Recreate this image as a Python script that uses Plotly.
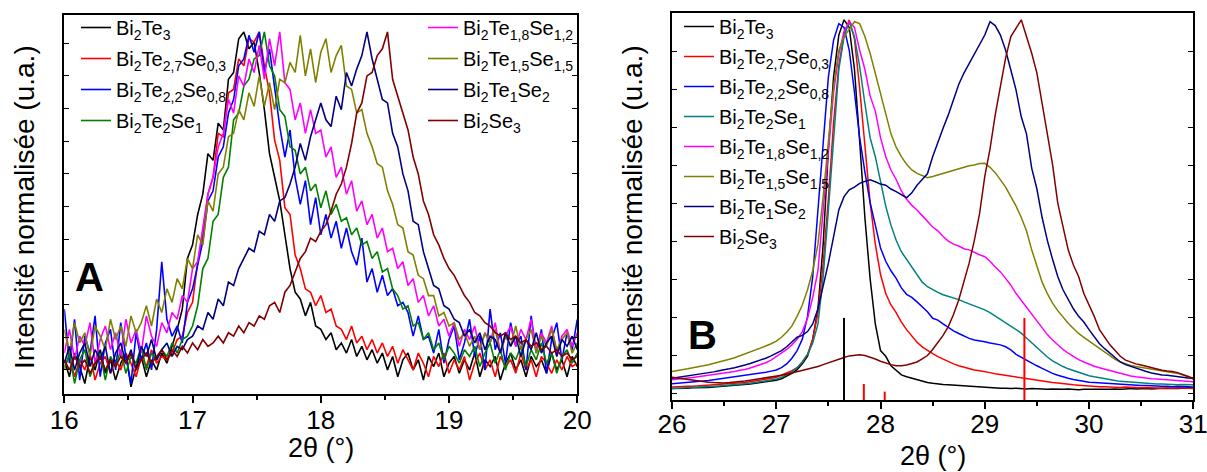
import plotly.graph_objects as go

W, H = 1207, 472

names = ["Bi<sub>2</sub>Te<sub>3</sub>", "Bi<sub>2</sub>Te<sub>2,7</sub>Se<sub>0,3</sub>",
         "Bi<sub>2</sub>Te<sub>2,2</sub>Se<sub>0,8</sub>", "Bi<sub>2</sub>Te<sub>2</sub>Se<sub>1</sub>",
         "Bi<sub>2</sub>Te<sub>1,8</sub>Se<sub>1,2</sub>", "Bi<sub>2</sub>Te<sub>1,5</sub>Se<sub>1,5</sub>",
         "Bi<sub>2</sub>Te<sub>1</sub>Se<sub>2</sub>", "Bi<sub>2</sub>Se<sub>3</sub>"]
colors_A = ["#000000", "#ff0000", "#0000ff", "#008000", "#ff00ff", "#808000", "#000080", "#800000"]
colors_B = ["#000000", "#ff0000", "#0000ff", "#008080", "#ff00ff", "#808000", "#000080", "#800000"]

# ---------------- Panel A : 2theta 16-20 (sampling grid) ----------------
A_theta = [round(16 + 0.04 * i, 2) for i in range(101)]

A_Bi2Te3 = [0.03, -0.02, 0.05, 0.01, -0.04, 0.04, 0.0, 0.06, -0.01, 0.03,
            -0.03, 0.02, 0.05, -0.05, 0.01, 0.04, -0.02, 0.03, 0.0, 0.05,
            0.02, 0.07, 0.12, 0.18, 0.33, 0.37, 0.46, 0.52, 0.64, 0.62,
            0.73, 0.71, 0.86, 0.88, 0.98, 1.0, 0.95, 0.97, 0.88, 0.77,
            0.64, 0.57, 0.5, 0.4, 0.3, 0.23, 0.21, 0.16, 0.2, 0.13,
            0.12, 0.09, 0.11, 0.06, 0.08, 0.05, 0.09, 0.04, 0.07, 0.03,
            0.06, 0.02, 0.05, 0.0, 0.04, -0.02, 0.03, 0.05, 0.0, 0.03,
            -0.03, 0.04, 0.01, 0.05, -0.02, 0.02, 0.04, -0.01, 0.03, 0.0,
            0.05, -0.02, 0.03, 0.01, 0.04, -0.03, 0.02, 0.05, 0.0, 0.03,
            -0.02, 0.04, 0.01, 0.03, -0.01, 0.05, 0.0, 0.03, -0.02, 0.04, 0.01]
A_Bi2Te27Se03 = [0.01, 0.04, -0.02, 0.03, 0.0, 0.05, -0.03, 0.02, 0.04, -0.01,
                 0.03, 0.0, 0.05, 0.02, -0.02, 0.04, 0.01, 0.06, 0.02, 0.04,
                 0.03, 0.05, 0.09, 0.1, 0.17, 0.2, 0.32, 0.4, 0.52, 0.57,
                 0.7, 0.69, 0.82, 0.83, 0.92, 0.9, 0.98, 0.97, 1.0, 0.9,
                 0.82, 0.68, 0.62, 0.48, 0.46, 0.34, 0.3, 0.24, 0.23, 0.19,
                 0.22, 0.17, 0.18, 0.13, 0.12, 0.09, 0.13, 0.08, 0.1, 0.06,
                 0.09, 0.05, 0.08, 0.04, 0.07, 0.02, 0.06, 0.03, 0.0, 0.05,
                 0.02, -0.02, 0.04, 0.01, 0.05, -0.01, 0.03, 0.0, 0.04, -0.03,
                 0.02, 0.05, 0.0, 0.03, -0.02, 0.04, 0.01, 0.03, -0.01, 0.05,
                 0.0, 0.03, -0.02, 0.04, 0.02, -0.01, 0.03, 0.0, 0.04, 0.01, 0.02]
A_Bi2Te22Se08 = [0.18, 0.02, 0.15, -0.03, 0.1, 0.05, 0.16, -0.02, 0.08, 0.12,
                 0.0, 0.14, 0.04, -0.04, 0.11, 0.03, 0.08, 0.0, 0.12, 0.32,
                 0.15, 0.1, 0.13, 0.08, 0.2, 0.24, 0.31, 0.38, 0.5, 0.53,
                 0.63, 0.66, 0.76, 0.8, 0.9, 0.92, 0.99, 0.94, 1.0, 0.88,
                 0.95, 0.83, 0.72, 0.63, 0.71, 0.57, 0.49, 0.56, 0.43, 0.51,
                 0.4, 0.46, 0.39, 0.44, 0.36, 0.42, 0.35, 0.31, 0.39, 0.26,
                 0.3, 0.23, 0.28, 0.22, 0.24, 0.19, 0.2, 0.17, 0.1, 0.16,
                 0.09, 0.1, 0.05, 0.12, 0.02, 0.09, 0.13, 0.03, 0.08, 0.15,
                 0.04, 0.1, 0.0, 0.18, 0.06, 0.11, 0.02, 0.14, 0.07, 0.1,
                 0.0, 0.16, 0.05, 0.12, -0.01, 0.09, 0.14, 0.03, 0.11, 0.06, 0.15]
A_Bi2Te2Se1 = [0.0, 0.05, -0.04, 0.03, 0.06, -0.02, 0.02, 0.05, -0.03, 0.04,
               0.01, 0.06, -0.01, 0.04, 0.02, 0.07, 0.0, 0.05, 0.03, 0.06,
               0.04, 0.08, 0.05, 0.09, 0.1, 0.13, 0.19, 0.3, 0.33, 0.44,
               0.46, 0.57, 0.6, 0.74, 0.76, 0.84, 0.86, 0.92, 0.93, 1.0,
               0.9, 0.87, 0.77, 0.75, 0.66, 0.65, 0.58, 0.6, 0.53, 0.55,
               0.48, 0.53, 0.46, 0.49, 0.44, 0.45, 0.4, 0.42, 0.37, 0.38,
               0.33, 0.35, 0.29, 0.3, 0.24, 0.22, 0.18, 0.19, 0.13, 0.14,
               0.09, 0.11, 0.06, 0.08, 0.03, 0.07, 0.05, 0.02, 0.06, 0.04,
               0.07, 0.01, 0.05, 0.08, 0.02, 0.06, 0.0, 0.05, 0.03, 0.07,
               0.01, 0.06, 0.03, 0.08, 0.02, 0.05, -0.01, 0.04, 0.06, 0.02, 0.05]
A_Bi2Te18Se12 = [0.05, 0.12, 0.03, 0.1, 0.07, 0.14, 0.02, 0.09, 0.13, 0.06,
                 0.11, 0.04, 0.15, 0.08, 0.12, 0.05, 0.16, 0.1, 0.07, 0.14,
                 0.11, 0.17, 0.15, 0.22, 0.2, 0.3, 0.32, 0.42, 0.52, 0.57,
                 0.66, 0.7, 0.8, 0.76, 0.87, 0.84, 0.92, 0.88, 0.96, 0.86,
                 0.98, 0.9, 1.0, 0.85, 0.83, 0.74, 0.79, 0.7, 0.77, 0.7,
                 0.71, 0.63, 0.66, 0.57, 0.6, 0.52, 0.56, 0.47, 0.5, 0.43,
                 0.46, 0.39, 0.42, 0.35, 0.36, 0.3, 0.32, 0.25, 0.27, 0.2,
                 0.22, 0.16, 0.19, 0.13, 0.15, 0.1, 0.14, 0.07, 0.12, 0.09,
                 0.13, 0.06, 0.11, 0.08, 0.14, 0.05, 0.1, 0.13, 0.07, 0.12,
                 0.09, 0.15, 0.06, 0.11, 0.08, 0.13, 0.05, 0.1, 0.12, 0.07, 0.11]
A_Bi2Te15Se15 = [0.12, 0.05, 0.14, 0.08, 0.11, 0.04, 0.13, 0.1, 0.06, 0.15,
                 0.09, 0.13, 0.07, 0.16, 0.11, 0.14, 0.19, 0.13, 0.21, 0.17,
                 0.24, 0.2, 0.27, 0.24, 0.33, 0.3, 0.4, 0.37, 0.5, 0.47,
                 0.58, 0.6, 0.69, 0.7, 0.77, 0.74, 0.82, 0.78, 0.87, 0.78,
                 0.85, 0.77, 0.86, 0.85, 0.91, 0.88, 0.99, 0.87, 0.95, 0.85,
                 0.94, 0.98, 0.88, 0.93, 0.96, 0.84, 0.83, 0.76, 0.77, 0.7,
                 0.66, 0.61, 0.6, 0.53, 0.49, 0.43, 0.42, 0.35, 0.34, 0.28,
                 0.27, 0.22, 0.22, 0.16, 0.17, 0.13, 0.14, 0.09, 0.11, 0.07,
                 0.1, 0.06, 0.11, 0.08, 0.12, 0.05, 0.1, 0.07, 0.13, 0.06,
                 0.09, 0.12, 0.05, 0.1, 0.07, 0.12, 0.06, 0.09, 0.11, 0.05, 0.08]
A_Bi2Te1Se2 = [0.02, 0.07, 0.0, 0.05, 0.08, 0.01, 0.06, 0.03, 0.07, -0.01,
               0.05, 0.08, 0.02, 0.06, 0.0, 0.07, 0.04, 0.09, 0.03, 0.06,
               0.08, 0.04, 0.07, 0.06, 0.09, 0.1, 0.13, 0.12, 0.17, 0.15,
               0.21, 0.19, 0.26, 0.25, 0.3, 0.33, 0.36, 0.35, 0.41, 0.4,
               0.46, 0.44, 0.5, 0.51, 0.55, 0.6, 0.67, 0.62, 0.69, 0.74,
               0.79, 0.74, 0.72, 0.81, 0.77, 0.88, 0.84, 0.89, 0.93, 1.0,
               0.92, 0.86, 0.8, 0.79, 0.7, 0.66, 0.58, 0.53, 0.44, 0.43,
               0.35, 0.3, 0.25, 0.24, 0.19, 0.18, 0.15, 0.14, 0.1, 0.12,
               0.08, 0.11, 0.06, 0.1, 0.09, 0.05, 0.11, 0.07, 0.1, 0.04,
               0.09, 0.06, 0.11, 0.05, 0.08, 0.1, 0.04, 0.09, 0.07, 0.1, 0.06]
A_Bi2Se3 = [0.03, 0.0, 0.04, 0.01, 0.03, -0.01, 0.02, 0.04, 0.0, 0.03,
            0.01, 0.04, 0.02, 0.05, 0.0, 0.03, 0.05, 0.02, 0.04, 0.06,
            0.03, 0.06, 0.04, 0.07, 0.05, 0.08, 0.06, 0.09, 0.07, 0.08,
            0.1, 0.08, 0.11, 0.1, 0.13, 0.11, 0.14, 0.13, 0.16, 0.15,
            0.19, 0.2, 0.17, 0.23, 0.25, 0.29, 0.33, 0.35, 0.39, 0.38,
            0.41, 0.43, 0.47, 0.52, 0.55, 0.6, 0.67, 0.76, 0.79, 0.87,
            0.88, 0.93, 0.95, 1.0, 0.86, 0.81, 0.76, 0.71, 0.63, 0.58,
            0.5, 0.46, 0.4, 0.37, 0.33, 0.3, 0.28, 0.25, 0.22, 0.2,
            0.17, 0.16, 0.14, 0.13, 0.11, 0.1, 0.11, 0.09, 0.1, 0.08,
            0.09, 0.07, 0.08, 0.06, 0.07, 0.05, 0.06, 0.04, 0.05, 0.03, 0.04]

# ---------------- Panel B : 2theta 26-31 (sampling grid) ----------------
B_theta = [round(26 + 0.05 * j, 2) for j in range(101)]

B_Bi2Te3 = [0.030, 0.030, 0.031, 0.031, 0.032, 0.032, 0.033, 0.033, 0.034, 0.035,
            0.036, 0.037, 0.038, 0.039, 0.040, 0.042, 0.044, 0.046, 0.048, 0.050,
            0.052, 0.056, 0.062, 0.070, 0.080, 0.095, 0.115, 0.160, 0.240, 0.410,
            0.660, 0.850, 0.960, 1.000, 0.980, 0.870, 0.680, 0.480, 0.320, 0.200,
            0.130, 0.115, 0.090, 0.077, 0.066, 0.061, 0.057, 0.052, 0.049, 0.046,
            0.044, 0.042, 0.041, 0.040, 0.039, 0.038, 0.037, 0.036, 0.035, 0.034,
            0.033, 0.032, 0.032, 0.031, 0.031, 0.030, 0.031, 0.030, 0.029, 0.030,
            0.029, 0.029, 0.028, 0.029, 0.028, 0.028, 0.029, 0.028, 0.027, 0.028,
            0.028, 0.027, 0.028, 0.027, 0.028, 0.029, 0.028, 0.029, 0.030, 0.029,
            0.030, 0.030, 0.029, 0.030, 0.031, 0.030, 0.031, 0.030, 0.031, 0.032, 0.031]
B_Bi2Te27Se03 = [0.034, 0.035, 0.035, 0.036, 0.036, 0.037, 0.038, 0.038, 0.039, 0.040,
                 0.041, 0.042, 0.043, 0.044, 0.046, 0.048, 0.050, 0.052, 0.054, 0.057,
                 0.060, 0.065, 0.070, 0.077, 0.085, 0.100, 0.120, 0.160, 0.230, 0.360,
                 0.530, 0.730, 0.880, 0.960, 1.000, 0.950, 0.820, 0.660, 0.520, 0.410,
                 0.330, 0.280, 0.250, 0.230, 0.205, 0.185, 0.168, 0.152, 0.140, 0.130,
                 0.122, 0.114, 0.107, 0.100, 0.095, 0.090, 0.086, 0.082, 0.079, 0.077,
                 0.075, 0.072, 0.069, 0.067, 0.064, 0.062, 0.060, 0.058, 0.056, 0.054,
                 0.051, 0.049, 0.048, 0.046, 0.045, 0.043, 0.042, 0.040, 0.039, 0.038,
                 0.036, 0.036, 0.035, 0.035, 0.034, 0.034, 0.033, 0.034, 0.033, 0.033,
                 0.032, 0.033, 0.032, 0.032, 0.031, 0.032, 0.031, 0.032, 0.031, 0.031, 0.030]
B_Bi2Te22Se08 = [0.043, 0.044, 0.045, 0.046, 0.047, 0.049, 0.050, 0.051, 0.053, 0.055,
                 0.056, 0.058, 0.060, 0.062, 0.064, 0.066, 0.068, 0.071, 0.073, 0.076,
                 0.079, 0.085, 0.095, 0.110, 0.130, 0.160, 0.220, 0.325, 0.500, 0.690,
                 0.850, 0.947, 0.990, 0.980, 0.920, 0.810, 0.690, 0.600, 0.520, 0.460,
                 0.400, 0.365, 0.340, 0.320, 0.295, 0.278, 0.270, 0.258, 0.245, 0.232,
                 0.215, 0.210, 0.200, 0.190, 0.182, 0.175, 0.168, 0.162, 0.158, 0.156,
                 0.153, 0.150, 0.148, 0.145, 0.140, 0.132, 0.120, 0.112, 0.104, 0.097,
                 0.090, 0.083, 0.076, 0.070, 0.065, 0.060, 0.057, 0.054, 0.051, 0.049,
                 0.047, 0.046, 0.045, 0.044, 0.043, 0.042, 0.041, 0.040, 0.040, 0.039,
                 0.038, 0.038, 0.037, 0.037, 0.036, 0.036, 0.035, 0.036, 0.035, 0.035, 0.034]
B_Bi2Te2Se1 = [0.030, 0.031, 0.031, 0.032, 0.033, 0.033, 0.034, 0.035, 0.036, 0.037,
               0.038, 0.039, 0.040, 0.041, 0.043, 0.044, 0.046, 0.048, 0.050, 0.052,
               0.055, 0.060, 0.066, 0.074, 0.085, 0.100, 0.120, 0.150, 0.200, 0.325,
               0.500, 0.690, 0.870, 0.956, 0.995, 0.956, 0.877, 0.780, 0.690, 0.640,
               0.570, 0.510, 0.460, 0.420, 0.390, 0.370, 0.350, 0.328, 0.310, 0.298,
               0.290, 0.283, 0.277, 0.273, 0.270, 0.264, 0.258, 0.253, 0.247, 0.242,
               0.237, 0.230, 0.221, 0.213, 0.205, 0.196, 0.187, 0.176, 0.163, 0.150,
               0.137, 0.126, 0.113, 0.103, 0.095, 0.088, 0.082, 0.077, 0.072, 0.068,
               0.064, 0.061, 0.058, 0.055, 0.053, 0.051, 0.049, 0.048, 0.046, 0.045,
               0.044, 0.043, 0.043, 0.042, 0.042, 0.041, 0.041, 0.040, 0.041, 0.040, 0.040]
B_Bi2Te18Se12 = [0.053, 0.055, 0.056, 0.058, 0.059, 0.061, 0.062, 0.064, 0.066, 0.068,
                 0.070, 0.072, 0.075, 0.078, 0.080, 0.084, 0.088, 0.093, 0.098, 0.105,
                 0.114, 0.122, 0.133, 0.145, 0.160, 0.180, 0.215, 0.270, 0.340, 0.500,
                 0.660, 0.810, 0.910, 0.970, 0.995, 0.980, 0.920, 0.870, 0.800, 0.760,
                 0.690, 0.640, 0.605, 0.580, 0.550, 0.528, 0.512, 0.500, 0.485, 0.470,
                 0.455, 0.445, 0.430, 0.418, 0.410, 0.405, 0.398, 0.395, 0.388, 0.382,
                 0.377, 0.365, 0.350, 0.337, 0.320, 0.302, 0.280, 0.262, 0.243, 0.225,
                 0.205, 0.190, 0.172, 0.158, 0.145, 0.133, 0.123, 0.114, 0.106, 0.100,
                 0.094, 0.089, 0.085, 0.081, 0.077, 0.073, 0.069, 0.066, 0.063, 0.061,
                 0.059, 0.058, 0.056, 0.055, 0.054, 0.053, 0.052, 0.051, 0.050, 0.049, 0.048]
B_Bi2Te15Se15 = [0.075, 0.077, 0.080, 0.082, 0.085, 0.087, 0.090, 0.093, 0.096, 0.100,
                 0.103, 0.107, 0.111, 0.116, 0.120, 0.125, 0.130, 0.136, 0.142, 0.148,
                 0.155, 0.165, 0.178, 0.195, 0.220, 0.250, 0.290, 0.340, 0.410, 0.535,
                 0.675, 0.825, 0.920, 0.956, 0.975, 0.995, 0.990, 0.956, 0.912, 0.860,
                 0.807, 0.750, 0.700, 0.665, 0.640, 0.620, 0.605, 0.596, 0.590, 0.585,
                 0.588, 0.592, 0.597, 0.602, 0.606, 0.610, 0.612, 0.616, 0.618, 0.622,
                 0.623, 0.612, 0.598, 0.580, 0.560, 0.535, 0.510, 0.480, 0.445, 0.395,
                 0.350, 0.310, 0.280, 0.255, 0.235, 0.218, 0.202, 0.188, 0.175, 0.165,
                 0.155, 0.145, 0.135, 0.125, 0.115, 0.107, 0.100, 0.095, 0.091, 0.088,
                 0.086, 0.083, 0.081, 0.079, 0.077, 0.075, 0.073, 0.070, 0.066, 0.062, 0.058]
B_Bi2Te1Se2 = [0.057, 0.059, 0.061, 0.063, 0.065, 0.067, 0.069, 0.071, 0.074, 0.077,
               0.079, 0.082, 0.085, 0.088, 0.092, 0.096, 0.100, 0.105, 0.110, 0.116,
               0.123, 0.130, 0.140, 0.152, 0.165, 0.170, 0.180, 0.200, 0.240, 0.300,
               0.360, 0.430, 0.500, 0.535, 0.553, 0.560, 0.570, 0.575, 0.579, 0.574,
               0.568, 0.565, 0.555, 0.548, 0.540, 0.532, 0.545, 0.565, 0.580, 0.595,
               0.640, 0.680, 0.715, 0.750, 0.790, 0.830, 0.860, 0.885, 0.910, 0.932,
               0.960, 0.995, 0.985, 0.960, 0.920, 0.868, 0.815, 0.745, 0.700, 0.610,
               0.555, 0.480, 0.420, 0.370, 0.325, 0.290, 0.263, 0.240, 0.220, 0.205,
               0.185, 0.165, 0.148, 0.135, 0.123, 0.112, 0.100, 0.093, 0.088, 0.083,
               0.078, 0.075, 0.071, 0.068, 0.066, 0.065, 0.063, 0.061, 0.060, 0.058, 0.057]
B_Bi2Se3 = [0.060, 0.058, 0.056, 0.054, 0.052, 0.050, 0.048, 0.047, 0.046, 0.045,
            0.045, 0.046, 0.047, 0.048, 0.050, 0.052, 0.054, 0.056, 0.058, 0.060,
            0.062, 0.065, 0.068, 0.071, 0.074, 0.077, 0.080, 0.084, 0.088, 0.093,
            0.098, 0.103, 0.108, 0.112, 0.116, 0.118, 0.119, 0.117, 0.113, 0.108,
            0.102, 0.097, 0.093, 0.090, 0.090, 0.092, 0.096, 0.100, 0.108, 0.117,
            0.133, 0.150, 0.170, 0.193, 0.225, 0.263, 0.310, 0.360, 0.420, 0.490,
            0.588, 0.660, 0.750, 0.830, 0.900, 0.956, 0.980, 1.000, 0.956, 0.912,
            0.860, 0.780, 0.700, 0.620, 0.518, 0.455, 0.395, 0.355, 0.325, 0.280,
            0.250, 0.220, 0.185, 0.165, 0.145, 0.130, 0.115, 0.105, 0.099, 0.095,
            0.092, 0.088, 0.084, 0.081, 0.078, 0.076, 0.075, 0.072, 0.068, 0.062, 0.055]

# reference patterns (stick positions and heights) in panel B
ref_black_pos = [27.65]
ref_black_int = [0.216]
ref_red_pos = [27.84, 28.04, 29.38]
ref_red_int = [0.042, 0.022, 0.216]

A_series = [A_Bi2Te3, A_Bi2Te27Se03, A_Bi2Te22Se08, A_Bi2Te2Se1,
            A_Bi2Te18Se12, A_Bi2Te15Se15, A_Bi2Te1Se2, A_Bi2Se3]
B_series = [B_Bi2Te3, B_Bi2Te27Se03, B_Bi2Te22Se08, B_Bi2Te2Se1,
            B_Bi2Te18Se12, B_Bi2Te15Se15, B_Bi2Te1Se2, B_Bi2Se3]

FONT = "Liberation Sans, Arial, sans-serif"

fig = go.Figure()
for k, (nm, ys) in enumerate(zip(names, A_series)):
    fig.add_trace(go.Scatter(x=A_theta, y=ys, mode="lines", name=nm,
                             line=dict(color=colors_A[k], width=1.6),
                             xaxis="x", yaxis="y", legendgroup="a%d" % k,
                             legend="legend" if k < 4 else "legend2"))
for k, (nm, ys) in enumerate(zip(names, B_series)):
    fig.add_trace(go.Scatter(x=B_theta, y=ys, mode="lines", name=nm,
                             line=dict(color=colors_B[k], width=1.5),
                             xaxis="x2", yaxis="y2", legendgroup="b%d" % k,
                             legend="legend3"))


def sticks(pos, hts):
    xs, ys = [], []
    for p, h in zip(pos, hts):
        xs += [p, p, None]
        ys += [0, h, None]
    return xs, ys


for pos, hts, col in [(ref_black_pos, ref_black_int, "#000000"), (ref_red_pos, ref_red_int, "#ff0000")]:
    sx, sy = sticks(pos, hts)
    fig.add_trace(go.Scatter(x=sx, y=sy, mode="lines", line=dict(color=col, width=2),
                             xaxis="x2", yaxis="y2", showlegend=False, hoverinfo="skip"))

tickfont = dict(family=FONT, size=26, color="black")
common_x = dict(showline=True, linewidth=2, linecolor="black", mirror=True, showgrid=False,
                zeroline=False, ticks="outside", ticklen=7, tickwidth=2, tickcolor="black",
                dtick=1, tickfont=tickfont, automargin=False, ticklabeloverflow="allow",
                minor=dict(dtick=0.5, ticks="outside", ticklen=4, tickwidth=1.5, tickcolor="black", showgrid=False))
common_y = dict(showline=True, linewidth=2, linecolor="black", mirror="ticks", showgrid=False,
                zeroline=False, ticks="inside", ticklen=5, tickwidth=1.2, tickcolor="black",
                showticklabels=False, automargin=False)
top_x = dict(side="top", ticks="inside", ticklen=5, tickwidth=1.2, tickcolor="black", dtick=0.5,
             showticklabels=False, showline=False, showgrid=False, zeroline=False, automargin=False)

legfont = dict(family=FONT, size=20, color="black")
fig.update_layout(
    width=W, height=H, margin=dict(l=0, r=0, t=0, b=0),
    paper_bgcolor="white", plot_bgcolor="white", template="none",
    xaxis=dict(domain=[64.3 / W, 577.3 / W], range=[16, 20], anchor="y", tick0=16,
               ticklabelstandoff=-6, **common_x),
    yaxis=dict(domain=[(H - 394.3) / H, (H - 14.7) / H], range=[-0.072, 1.051], anchor="x",
               tick0=0, dtick=0.0967, **common_y),
    xaxis3=dict(overlaying="x", anchor="y", range=[16, 20], tick0=16, **top_x),
    xaxis2=dict(domain=[672 / W, 1193.3 / W], range=[26, 31], anchor="y2", tick0=26,
                ticklabelstandoff=-7, **common_x),
    yaxis2=dict(domain=[(H - 400) / H, (H - 13) / H], range=[0, 1.018], anchor="x2",
                tick0=0.018, dtick=0.1, **common_y),
    xaxis4=dict(overlaying="x2", anchor="y2", range=[26, 31], tick0=26, **top_x),
    legend=dict(x=76 / W, y=1 - 8 / H, xanchor="left", yanchor="top", bgcolor="rgba(0,0,0,0)",
                font=legfont, tracegroupgap=2, traceorder="grouped"),
    legend2=dict(x=423 / W, y=1 - 8 / H, xanchor="left", yanchor="top", bgcolor="rgba(0,0,0,0)",
                 font=legfont, tracegroupgap=2, traceorder="grouped"),
    legend3=dict(x=679 / W, y=1 - 7 / H, xanchor="left", yanchor="top", bgcolor="rgba(0,0,0,0)",
                 font=legfont, tracegroupgap=1, traceorder="grouped"),
    showlegend=True,
)

ann = [
    dict(text="<b>A</b>", x=89 / W, y=1 - 277 / H, font=dict(family=FONT, size=40, color="black"), xanchor="center", yanchor="middle"),
    dict(text="<b>B</b>", x=702 / W, y=1 - 335 / H, font=dict(family=FONT, size=40, color="black"), xanchor="center", yanchor="middle"),
    dict(text="Intensité normalisée (u.a.)", x=24 / W, y=1 - 207 / H, textangle=-90,
         font=dict(family=FONT, size=28, color="black"), xanchor="center", yanchor="middle"),
    dict(text="Intensité normalisée (u.a.)", x=632 / W, y=1 - 207 / H, textangle=-90,
         font=dict(family=FONT, size=28, color="black"), xanchor="center", yanchor="middle"),
    dict(text="2θ (°)", x=320.8 / W, y=1 - 448 / H, font=dict(family=FONT, size=27, color="black"),
         xanchor="center", yanchor="middle"),
    dict(text="2θ (°)", x=932.6 / W, y=1 - 456 / H, font=dict(family=FONT, size=27, color="black"),
         xanchor="center", yanchor="middle"),
]
for a in ann:
    a.update(xref="paper", yref="paper", showarrow=False)
fig.update_layout(annotations=ann)

fig.write_html("out.html", config={"displayModeBar": False},
               post_script="document.body.style.margin='0px';")
